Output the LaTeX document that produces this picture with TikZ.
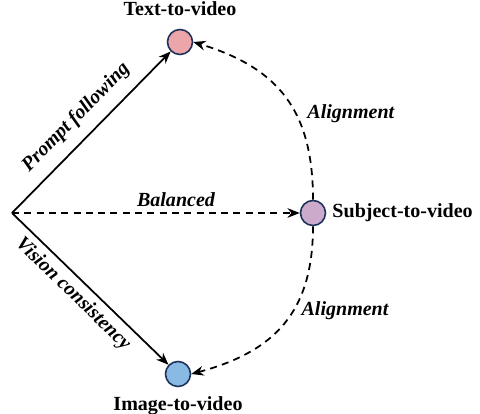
\documentclass[tikz,border=0pt]{standalone}
\usepackage{fontspec}
\setmainfont{Liberation Serif}
\usetikzlibrary{arrows.meta, positioning}
\definecolor{ringblue}{RGB}{30,50,90}
\definecolor{textpink}{RGB}{236,166,170}
\definecolor{subjpurple}{RGB}{204,170,204}
\definecolor{imgblue}{RGB}{137,186,228}
\tikzset{
  task/.style={circle, draw=ringblue, line width=0.9pt, minimum size=0.5cm, inner sep=0pt},
  tasklabel/.style={font=\fontsize{11.4}{13}\selectfont\bfseries},
  edgelabel/.style={font=\fontsize{11.4}{13}\selectfont\bfseries\itshape},
  solidarrow/.style={line width=1pt, -{Stealth[length=7pt, width=5.5pt]}},
  dasharrow/.style={solidarrow, dash pattern=on 4pt off 3pt},
}

\begin{document}
\begin{tikzpicture}
    \useasboundingbox (0,0) rectangle (9.6,8.28);
    \coordinate (o) at (0.24, 4.02);
    \node[task, fill=textpink, label={[tasklabel, label distance=4pt]90:Text-to-video}] (t) at (3.6, 7.44) {};
    \node[task, fill=subjpurple, label={[tasklabel]0:Subject-to-video}] (s) at (6.26, 4.02) {};
    \node[task, fill=imgblue, label={[tasklabel, label distance=2pt]270:Image-to-video}] (i) at (3.56, 0.8) {};

    \draw[solidarrow] (o) to node[edgelabel, midway, sloped, above=3pt] {Prompt following} (t);
    \draw[solidarrow] (o) to node[edgelabel, pos=0.46, sloped, below] {Vision consistency} (i);
    \draw[dasharrow] (o) to node[edgelabel, pos=0.57, above] {Balanced} (s);

    \draw[dasharrow] (s.north) to[out=90, in=-17, looseness=1.15]
        node[edgelabel, pos=0.4, right=3pt] {Alignment} (t.east);
    \draw[dasharrow] (s.south) to[out=-90, in=15, looseness=1.15]
        node[edgelabel, pos=0.41, right=1pt] {Alignment} (i.east);
\end{tikzpicture}
\end{document}
